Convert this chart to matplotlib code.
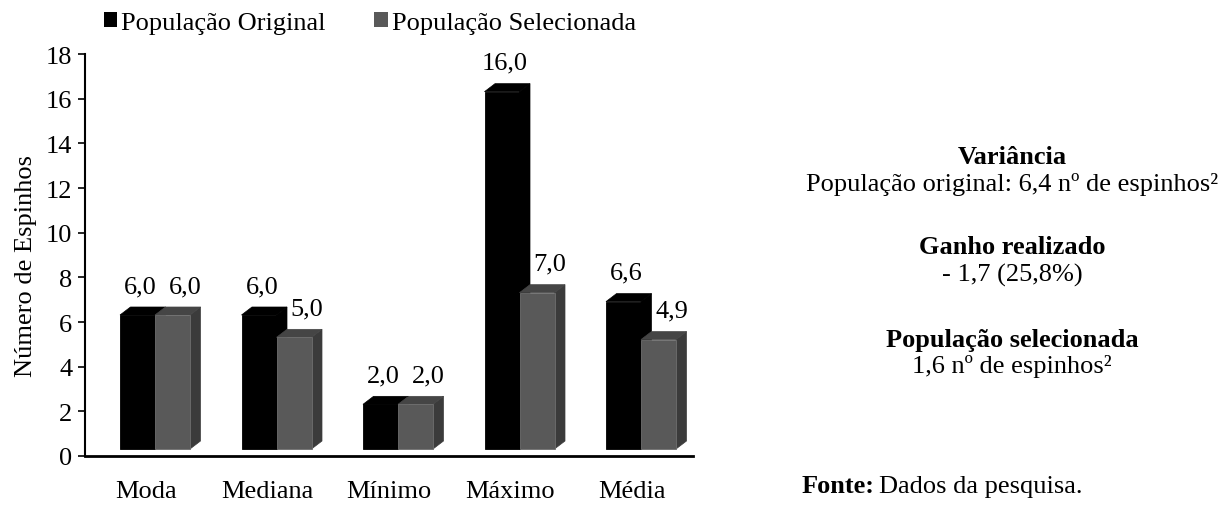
import matplotlib
matplotlib.use("Agg")
import matplotlib.pyplot as plt
from matplotlib.patches import Polygon, Patch
import numpy as np

categories = ["Moda", "Mediana", "Mínimo", "Máximo", "Média"]
original = [6.0, 6.0, 2.0, 16.0, 6.6]
selecionada = [6.0, 5.0, 2.0, 7.0, 4.9]
series_names = ["População Original", "População Selecionada"]
yticks = [0, 2, 4, 6, 8, 10, 12, 14, 16, 18]

plt.rcParams['font.family'] = ['Liberation Serif', 'DejaVu Serif']
FS = 19

fig = plt.figure(figsize=(12.3, 5.06), dpi=100)
ax = fig.add_axes([85/1230, 1-457/506, (692.5-85)/1230, (457-55)/506])

ax.set_xlim(-0.5, 4.5)
ax.set_ylim(0, 18)

px_x = 1/121.5
px_y = 18/402.0
w = 35*px_x
off = 7*px_y
ddx = 10.5*px_x
ddy = 8*px_y

front_cols = ["#000000", "#595959"]
side_cols = ["#000000", "#3b3b3b"]
top_cols = ["#000000", "#454545"]
edge_cols = ["#000000", "#6e6e6e"]

x = np.arange(len(categories))
left0 = x - 25.75*px_x

for s, vals in enumerate([original, selecionada]):
    lefts = left0 + s*w
    for xl, v in zip(lefts, vals):
        xr = xl + w
        yb = off
        yt = v + off
        ax.add_patch(Polygon([(xr, yb), (xr+ddx, yb+ddy), (xr+ddx, yt+ddy), (xr, yt)],
                             closed=True, facecolor=side_cols[s], edgecolor=side_cols[s], lw=0.5, zorder=3+s*2))
        ax.add_patch(Polygon([(xl, yt), (xl+ddx, yt+ddy), (xr+ddx, yt+ddy), (xr, yt)],
                             closed=True, facecolor=top_cols[s], edgecolor=top_cols[s], lw=0.5, zorder=3+s*2))
    ax.bar(lefts, vals, width=w, bottom=off, align='edge', color=front_cols[s],
           edgecolor=edge_cols[s], linewidth=0.6, zorder=4+s*2)
    for xl, v in zip(lefts, vals):
        dxl = 3*px_x if s == 0 else 13*px_x
        ax.text(xl + w/2 + dxl, v + off + 29*px_y, f"{v:.1f}".replace('.', ','),
                ha='center', va='center', fontsize=FS, zorder=10)

ax.set_xticks(x)
ax.set_xticklabels(categories, fontsize=FS)
ax.tick_params(axis='x', length=0, pad=17)
ax.set_yticks(yticks)
ax.set_yticklabels([str(t) for t in yticks], fontsize=FS)
ax.tick_params(axis='y', length=5, width=1.2, direction='out', pad=4)
for sp in ['top', 'right']:
    ax.spines[sp].set_visible(False)
ax.spines['left'].set_linewidth(1.5)
ax.spines['bottom'].set_linewidth(2.0)
ax.set_ylabel("Número de Espinhos", fontsize=FS)
ax.yaxis.set_label_coords((37-85)/607.5, (457-266)/402)

handles = [Patch(facecolor=front_cols[0], edgecolor='none'),
           Patch(facecolor=front_cols[1], edgecolor='none')]
fig.legend(handles, series_names, loc='center left', bbox_to_anchor=(104/1230, 1-24/506),
           ncol=2, frameon=False, fontsize=FS, handlelength=0.5, handleheight=0.5,
           handletextpad=0.15, columnspacing=1.85, borderaxespad=0, borderpad=0)

cx = 1012/1230
def ft(xp, yp, s, bold=False, ha='center'):
    fig.text(xp, 1-yp/506, s, ha=ha, va='center', fontsize=FS,
             fontweight='bold' if bold else 'normal')

ft(cx, 158, "Variância", True)
ft(cx, 185, "População original: 6,4 nº de espinhos²")
ft(cx, 248, "Ganho realizado", True)
ft(cx, 275, "- 1,7 (25,8%)")
ft(cx, 340, "População selecionada", True)
ft(cx, 366, "1,6 nº de espinhos²")

ft(802/1230, 487, "Fonte:", True, ha='left')
ft(879/1230, 487, "Dados da pesquisa.", False, ha='left')
fig.savefig("out.png", dpi=100)
